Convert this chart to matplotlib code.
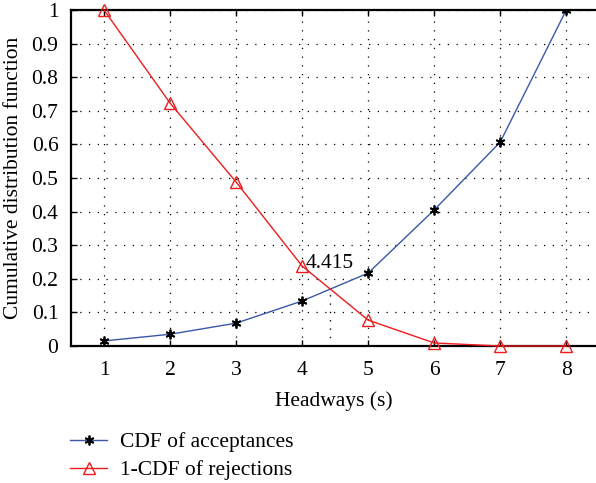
import matplotlib
matplotlib.use("Agg")
import matplotlib.pyplot as plt

headways = [1, 2, 3, 4, 5, 6, 7, 8]
cdf_accept = [0.015, 0.035, 0.068, 0.134, 0.217, 0.405, 0.607, 1.0]
cdf_reject = [1.0, 0.723, 0.488, 0.238, 0.077, 0.009, 0.0, 0.0]
critical_x = 4.415
critical_y = 0.168
yticks = [0, 0.1, 0.2, 0.3, 0.4, 0.5, 0.6, 0.7, 0.8, 0.9, 1]
ytick_labels = ["0", "0.1", "0.2", "0.3", "0.4", "0.5", "0.6", "0.7", "0.8", "0.9", "1"]

plt.rcParams["font.family"] = ["Liberation Serif", "DejaVu Serif"]
plt.rcParams["font.size"] = 15.5

fig = plt.figure(figsize=(5.96, 4.83), dpi=100)
ax = fig.add_axes([71 / 596, 1 - 346 / 483, 1 - 71 / 596, 336 / 483])

ax.plot(headways, cdf_accept, color="#3a57a8", lw=1.0, marker=(6, 2, 0),
        markersize=7, markeredgecolor="black", markeredgewidth=1.3,
        label="CDF of acceptances", zorder=3)
ax.plot(headways, cdf_reject, color="#ee1c1c", lw=1.0, marker="^",
        markersize=9, markerfacecolor="none", markeredgecolor="#ee1c1c",
        markeredgewidth=1.0, label="1-CDF of rejections", zorder=3,
        clip_on=False)

ax.plot([critical_x, critical_x], [0, critical_y], color="black", lw=1.0,
        linestyle=(0, (1, 5)))
ax.text(4.06, 0.245, "4.415", fontsize=15.5, va="center", ha="left")

ax.set_xlim(0.5, 8.45)
ax.set_ylim(0, 1)
ax.set_xticks(headways)
ax.set_yticks(yticks)
ax.set_yticklabels(ytick_labels)
ax.grid(True, color="black", linestyle=(0, (1, 6)), lw=0.9)
ax.tick_params(direction="in", length=4, width=1, top=True, right=False,
               labelsize=15.5)
ax.tick_params(axis="x", pad=11)
ax.tick_params(axis="y", pad=9)
for side in ["left", "bottom", "top"]:
    ax.spines[side].set_linewidth(1.6)
ax.spines["right"].set_visible(False)

ax.set_xlabel("Headways (s)", fontsize=15.5, labelpad=8)
ax.set_ylabel("Cumulative distribution function", fontsize=15.5, labelpad=6)

fig.legend(loc="upper left", bbox_to_anchor=(51 / 596, 1 - 413 / 483),
           frameon=False, fontsize=15.5, handlelength=1.7, labelspacing=0.35,
           handletextpad=0.6)

fig.savefig("out.png", dpi=100)
